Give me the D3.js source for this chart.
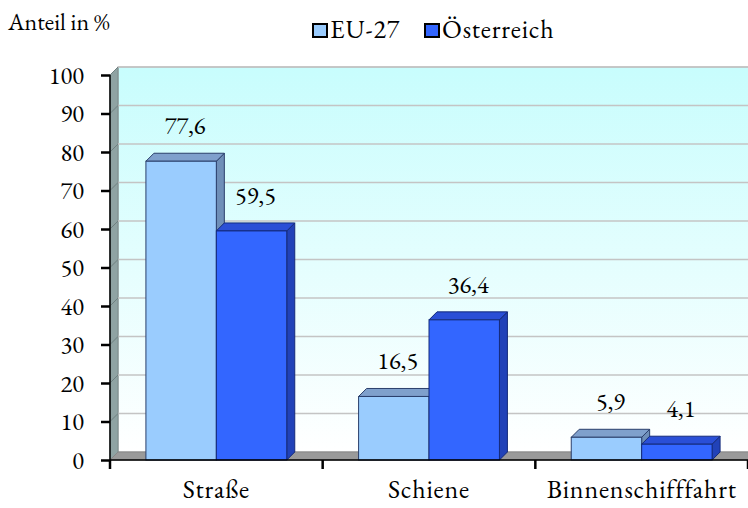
<!DOCTYPE html>
<html><head><meta charset="utf-8">
<script src="https://cdn.jsdelivr.net/npm/d3@7"></script>
<style>body{margin:0;background:#fff}svg{display:block}</style>
</head><body>
<script>
const categories = ["Straße", "Schiene", "Binnenschifffahrt"];
const seriesNames = ["EU-27", "Österreich"];
const euValues = [77.6, 16.5, 5.9];
const atValues = [59.5, 36.4, 4.1];
const yTicks = [0,10,20,30,40,50,60,70,80,90,100];
const valueLabels = [["77,6","16,5","5,9"],["59,5","36,4","4,1"]];

(function(){
const FONT = "EB Garamond, Liberation Serif, serif";
const W = 748, H = 508;
const mLeft = 110, mRight = 748, mBottom = 460, mTop = 75;
const dx = 8, dy = -8;
const svg = d3.select("body").append("svg").attr("width", W).attr("height", H);

const defs = svg.append("defs");
const g = defs.append("linearGradient").attr("id","wall").attr("x1",0).attr("y1",0).attr("x2",0).attr("y2",1);
g.append("stop").attr("offset","0%").attr("stop-color","#c8fdfd");
g.append("stop").attr("offset","100%").attr("stop-color","#ffffff");

const y = d3.scaleLinear().domain([0,100]).range([mBottom, mTop]);
const x0 = d3.scaleBand().domain(categories).range([mLeft, mRight]);
const x1 = d3.scaleBand().domain(seriesNames).range([0, x0.bandwidth()]).paddingInner(0).paddingOuter(0.51);

svg.append("rect").attr("x", mLeft+dx).attr("y", y(100)+dy).attr("width", mRight-mLeft).attr("height", y(0)-y(100))
  .attr("fill","url(#wall)").attr("stroke","#a0a0a0").attr("stroke-width",1);
svg.append("path").attr("d", `M${mLeft},${y(0)}L${mLeft},${y(100)}L${mLeft+dx},${y(100)+dy}L${mLeft+dx},${y(0)+dy}Z`)
  .attr("fill","#8fa3a3").attr("stroke","#7a8a8a");
svg.append("path").attr("d", `M${mLeft},${y(0)}L${mLeft+dx},${y(0)+dy}L${mRight+dx},${y(0)+dy}L${mRight},${y(0)}Z`)
  .attr("fill","#9a9a9a").attr("stroke","#888");
svg.selectAll(".grid").data(yTicks.filter(t=>t>0)).join("line")
  .attr("x1", mLeft+dx).attr("x2", mRight+dx).attr("y1", d=>y(d)+dy).attr("y2", d=>y(d)+dy)
  .attr("stroke","#c4c4c4").attr("stroke-width",1.5);
svg.selectAll(".gridl").data(yTicks.filter(t=>t>0)).join("line")
  .attr("x1", mLeft).attr("x2", mLeft+dx).attr("y1", d=>y(d)).attr("y2", d=>y(d)+dy)
  .attr("stroke","#6f8080").attr("stroke-width",1);

const colors = {
  "EU-27": {front:"#9accfe", top:"#7fa0cc", side:"#6f8fb8", stroke:"#2b3f6b"},
  "Österreich": {front:"#3366ff", top:"#2a4fd6", side:"#2142b8", stroke:"#142a7a"}
};
const data = [];
categories.forEach((c,i)=>{
  data.push({cat:c, s:"EU-27", v:euValues[i], lab:valueLabels[0][i]});
  data.push({cat:c, s:"Österreich", v:atValues[i], lab:valueLabels[1][i]});
});
const bars = svg.append("g");
data.forEach(d=>{
  const bx = x0(d.cat) + x1(d.s), bw = x1.bandwidth();
  const by = y(d.v), b0 = y(0);
  const c = colors[d.s];
  const gb = bars.append("g");
  gb.append("path").attr("d", `M${bx+bw},${b0}L${bx+bw},${by}L${bx+bw+dx},${by+dy}L${bx+bw+dx},${b0+dy}Z`)
    .attr("fill",c.side).attr("stroke",c.stroke).attr("stroke-width",1);
  gb.append("path").attr("d", `M${bx},${by}L${bx+dx},${by+dy}L${bx+bw+dx},${by+dy}L${bx+bw},${by}Z`)
    .attr("fill",c.top).attr("stroke",c.stroke).attr("stroke-width",1);
  gb.append("rect").attr("x",bx).attr("y",by).attr("width",bw).attr("height",b0-by)
    .attr("fill",c.front).attr("stroke",c.stroke).attr("stroke-width",1);
  svg.append("text").attr("x", bx+bw/2+dx/2).attr("y", by-27).attr("text-anchor","middle")
    .attr("font-family",FONT).attr("font-size",24.5).attr("fill","#000").text(d.lab);
});

const yAxis = d3.axisLeft(y).tickValues(yTicks).tickSize(9).tickPadding(17).tickFormat(d3.format("d"));
const ya = svg.append("g").attr("transform",`translate(${mLeft},0)`).call(yAxis);
ya.select(".domain").attr("stroke","#000").attr("stroke-width",1.5).attr("d",`M0,${y(0)}V${y(100)}`);
ya.selectAll(".tick line").attr("stroke","#000").attr("stroke-width",2.5);
ya.selectAll(".tick text").attr("font-size",24.5).attr("font-family",FONT).attr("fill","#000").attr("dy","0.33em");

const xa = svg.append("g").attr("transform",`translate(0,${mBottom})`);
xa.append("line").attr("x1",mLeft).attr("x2",mRight).attr("y1",0).attr("y2",0).attr("stroke","#000").attr("stroke-width",1.5);
const xticks = categories.map(c=>x0(c)).concat([mRight]);
xa.selectAll(".xt").data(xticks).join("line").attr("x1",d=>d).attr("x2",d=>d).attr("y1",0).attr("y2",9)
  .attr("stroke","#000").attr("stroke-width",2.5);
xa.selectAll(".xl").data(categories).join("text").attr("x",d=>x0(d)+x0.bandwidth()/2).attr("y",38)
  .attr("text-anchor","middle").attr("font-family",FONT).attr("font-size",26).attr("letter-spacing",0.8).text(d=>d);

svg.append("text").attr("x",8).attr("y",30).attr("font-family",FONT).attr("font-size",24).text("Anteil in %");

const leg = svg.append("g");
const legItems = [{n:"EU-27", x:313},{n:"Österreich", x:425}];
legItems.forEach(l=>{
  leg.append("rect").attr("x",l.x).attr("y",24).attr("width",14).attr("height",13)
    .attr("fill",colors[l.n].front).attr("stroke","#000").attr("stroke-width",2);
  leg.append("text").attr("x",l.x+17).attr("y",38).attr("font-family",FONT).attr("font-size",26).attr("letter-spacing",0.8).text(l.n);
});
})();
</script>
</body></html>
